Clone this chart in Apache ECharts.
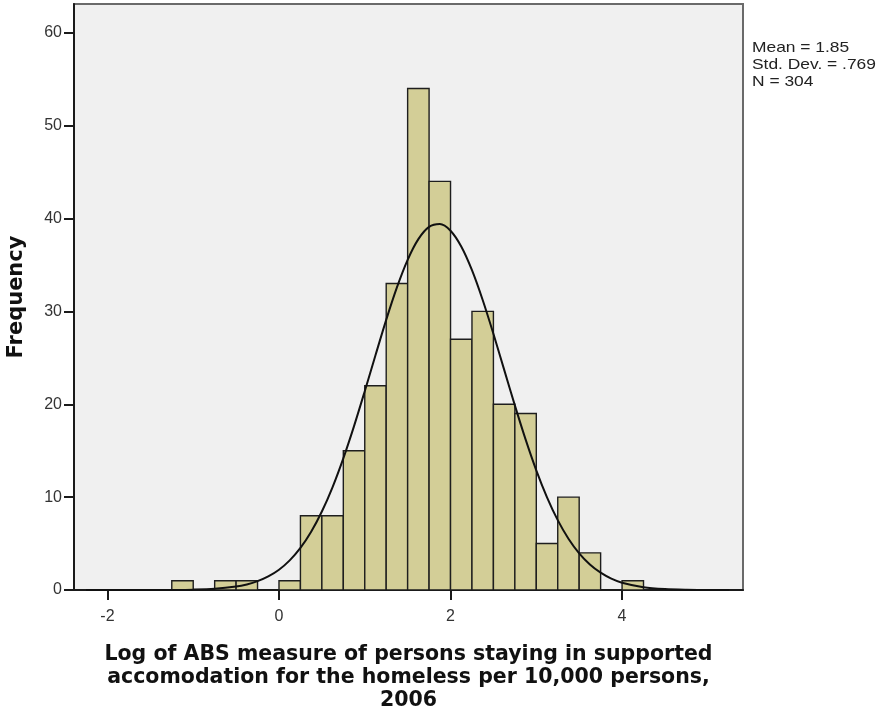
<!DOCTYPE html>
<html>
<head>
<meta charset="utf-8">
<script src="https://cdn.jsdelivr.net/npm/echarts@6/dist/echarts.min.js"></script>
<style>
html,body{margin:0;padding:0;background:#fff;}
#chart{width:878px;height:711px;}
</style>
</head>
<body>
<div id="chart"></div>
<script>
// ---- data ----
const binStarts = [-1.25, -1.0, -0.75, -0.5, -0.25, 0, 0.25, 0.5, 0.75, 1.0, 1.25, 1.5, 1.75, 2.0, 2.25, 2.5, 2.75, 3.0, 3.25, 3.5, 3.75, 4.0];
const binCounts = [1, 0, 1, 1, 0, 1, 8, 8, 15, 22, 33, 54, 44, 27, 30, 20, 19, 5, 10, 4, 0, 1];
const binWidth = 0.25;

const curveX = [-2.25, -2.0, -1.75, -1.5, -1.25, -1.0, -0.75, -0.5, -0.375, -0.25, -0.125, 0, 0.125, 0.25, 0.375, 0.5, 0.625, 0.75, 0.875, 1.0, 1.125, 1.25, 1.375, 1.5, 1.625, 1.75, 1.875, 2.0, 2.125, 2.25, 2.375, 2.5, 2.625, 2.75, 2.875, 3.0, 3.125, 3.25, 3.375, 3.5, 3.625, 3.75, 3.875, 4.0, 4.25, 4.5, 4.75, 5.0, 5.25];
const curveY = [0, 0, 0, 0, 0.01, 0.04, 0.13, 0.37, 0.6, 0.95, 1.46, 2.18, 3.19, 4.53, 6.27, 8.45, 11.09, 14.18, 17.65, 21.41, 25.28, 29.09, 32.58, 35.55, 37.78, 39.10, 39.41, 38.69, 36.99, 34.44, 31.23, 27.59, 23.73, 19.88, 16.22, 12.89, 9.98, 7.52, 5.52, 3.95, 2.75, 1.87, 1.23, 0.79, 0.30, 0.10, 0.03, 0.01, 0];

const xTicks = [-2, 0, 2, 4];
const yTicks = [0, 10, 20, 30, 40, 50, 60];
const xRange = [-2.39, 5.41];
const yRange = [0, 63.1];

const xTitle = 'Log of ABS measure of persons staying in supported\naccomodation for the homeless per 10,000 persons,\n2006';
const yTitle = 'Frequency';
const statsLines = ['Mean = 1.85', 'Std. Dev. = .769', 'N = 304'];

// ---- chart ----
const barData = binStarts.map((s, i) => [s, s + binWidth, binCounts[i]]);
const curveData = curveX.map((x, i) => [x, curveY[i]]);

const chart = echarts.init(document.getElementById('chart'), null, {renderer: 'canvas'});
const labelFont = '"Liberation Sans", Arial, sans-serif';
const titleFont = '"DejaVu Sans", Verdana, sans-serif';

chart.setOption({
  animation: false,
  backgroundColor: '#ffffff',
  grid: {
    left: 74, right: 135, top: 4, bottom: 121,
    outerBoundsMode: 'none', containLabel: false,
    show: true, backgroundColor: '#F0F0F0', borderColor: '#6a6a6a', borderWidth: 2
  },
  xAxis: {
    type: 'value', min: xRange[0], max: xRange[1],
    splitLine: {show: false},
    axisLine: {show: true, onZero: false, lineStyle: {color: '#1a1a1a', width: 2}},
    axisTick: {show: true, customValues: xTicks, length: 10, lineStyle: {color: '#1a1a1a', width: 2}},
    axisLabel: {customValues: xTicks, margin: 19, color: '#333', fontSize: 16, fontFamily: labelFont,
      formatter: v => String(v)},
    name: xTitle, nameLocation: 'middle', nameGap: 53,
    nameTextStyle: {fontFamily: titleFont, fontWeight: 'bold', fontSize: 20.5, color: '#111', lineHeight: 23, align: 'center'}
  },
  yAxis: {
    type: 'value', min: yRange[0], max: yRange[1],
    splitLine: {show: false},
    axisLine: {show: true, onZero: false, lineStyle: {color: '#1a1a1a', width: 2}},
    axisTick: {show: true, customValues: yTicks, length: 10, lineStyle: {color: '#1a1a1a', width: 2}},
    axisLabel: {customValues: yTicks, margin: 12, color: '#333', fontSize: 16, fontFamily: labelFont},
    name: yTitle, nameLocation: 'middle', nameGap: 47,
    nameTextStyle: {fontFamily: titleFont, fontWeight: 'bold', fontSize: 21, color: '#111'}
  },
  graphic: [{
    type: 'text', x: 752, y: 39, scaleX: 1.2,
    style: {text: statsLines.join('\n'), font: '14.5px ' + labelFont, fill: '#222', lineHeight: 17}
  }],
  series: [{
    type: 'custom',
    data: barData,
    clip: true,
    renderItem: function (params, api) {
      const h = api.value(2);
      if (!h) return null;
      const p0 = api.coord([api.value(0), 0]);
      const p1 = api.coord([api.value(1), h]);
      return {
        type: 'rect',
        shape: {x: p0[0], y: p1[1], width: p1[0] - p0[0], height: p0[1] - p1[1]},
        style: {fill: '#D3CE97', stroke: '#1e1e1e', lineWidth: 1.4}
      };
    },
    z: 2
  }, {
    type: 'line',
    data: curveData,
    smooth: 0.3,
    showSymbol: false,
    symbol: 'none',
    clip: true,
    lineStyle: {color: '#111', width: 2},
    z: 3
  }]
});
</script>
</body>
</html>
